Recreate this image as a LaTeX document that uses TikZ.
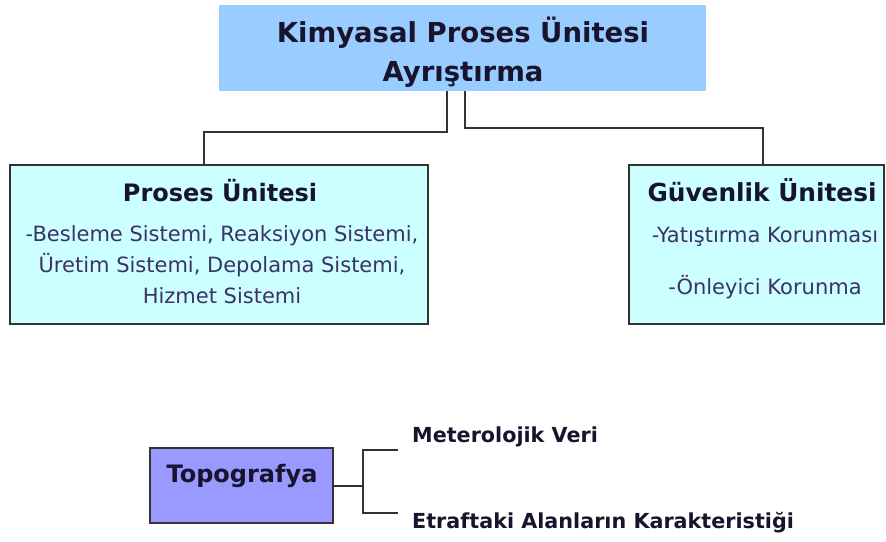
\documentclass[tikz,border=0pt]{standalone}
\usepackage{fontspec}
\setmainfont{DejaVu Sans}
\usetikzlibrary{positioning}
\definecolor{topblue}{RGB}{153,204,255}
\definecolor{unitcyan}{RGB}{204,255,255}
\definecolor{topolilac}{RGB}{153,153,255}
\definecolor{linegray}{RGB}{51,51,51}
\definecolor{headink}{RGB}{25,20,45}
\definecolor{bodyink}{RGB}{60,50,100}

\begin{document}
\begin{tikzpicture}[x=1pt,y=-1pt,
  unitbox/.style={draw=linegray, line width=1.5pt, fill=unitcyan, inner sep=0pt},
  conn/.style={draw=linegray, line width=2pt},
  head/.style={font=\bfseries\fontsize{24}{28}\selectfont, text=headink, inner sep=0pt},
  body/.style={font=\fontsize{21}{31}\selectfont, text=bodyink, align=center, inner sep=0pt},
  leaf/.style={font=\bfseries\fontsize{20.7}{25}\selectfont, text=headink, anchor=west, inner sep=0pt}]
  \useasboundingbox (0,0) rectangle (886,541);

  % top box
  \node[fill=topblue, minimum width=487pt, minimum height=86pt, inner sep=0pt] (top) at (462.5,48) {};
  \node[head, font=\bfseries\fontsize{27.5}{39}\selectfont, align=center] (toptitle) at (463,52) {Kimyasal Proses Ünitesi\\Ayrıştırma};

  % units
  \node[unitbox, minimum width=418pt, minimum height=159pt] (proses) at (219,244.5) {};
  \node[head] (prosestitle) at (220,191) {Proses Ünitesi};
  \node[body] (prosesbody) at (222,265) {-Besleme Sistemi, Reaksiyon Sistemi,\\Üretim Sistemi, Depolama Sistemi,\\Hizmet Sistemi};

  \node[unitbox, minimum width=255pt, minimum height=159pt] (guven) at (756.5,244.5) {};
  \node[head, font=\bfseries\fontsize{24.8}{28}\selectfont] (guventitle) at (762,190) {Güvenlik Ünitesi};
  \node[body] (yatis) at (765,237) {-Yatıştırma Korunması};
  \node[body] (onley) at (765,287) {-Önleyici Korunma};

  \draw[conn] ([xshift=-15.5pt]top.south) -- ++(0,41) -| ([xshift=-15pt]proses.north);
  \draw[conn] ([xshift=2.5pt]top.south) -- ++(0,37) -| ([xshift=6.5pt]guven.north);

  % topography
  \node[draw=linegray, line width=1.5pt, fill=topolilac, minimum width=183pt, minimum height=75pt] (topo) at (241.5,485.5) {};
  \node[head, font=\bfseries\fontsize{24}{28}\selectfont] (topotitle) at (242,476) {Topografya};
  \node[leaf] (meteo) at (412,437) {Meterolojik Veri};
  \node[leaf] (etraf) at (412,523) {Etraftaki Alanların Karakteristiği};

  \coordinate (fork) at (363,485.5);
  \coordinate (meteoend) at (398,450);
  \coordinate (etrafend) at (398,513);
  \draw[conn] (topo.east) -- (fork);
  \draw[conn] (meteoend) -| (fork) |- (etrafend);
\end{tikzpicture}
\end{document}
